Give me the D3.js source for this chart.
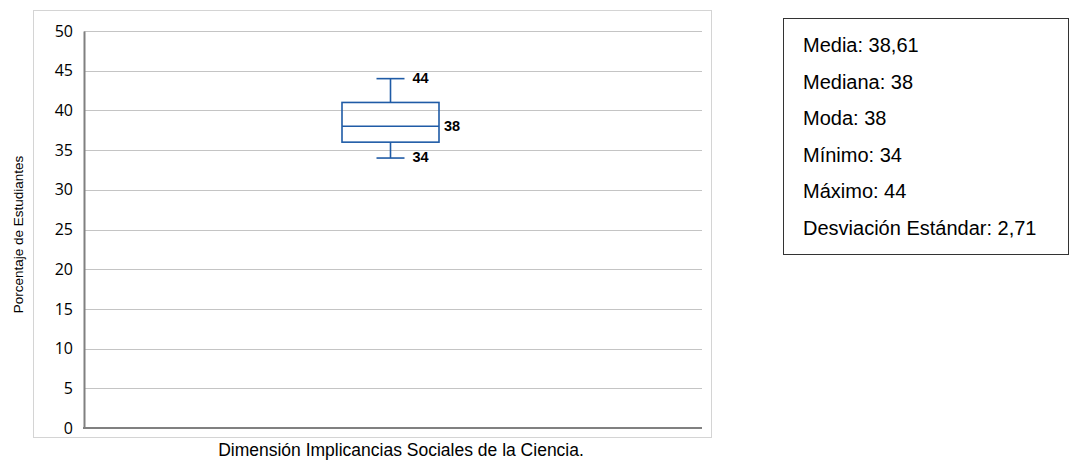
<!DOCTYPE html>
<html>
<head>
<meta charset="utf-8">
<script src="https://cdn.jsdelivr.net/npm/d3@7"></script>
<style>
  body { margin: 0; background: #fff; }
  svg { display: block; }
</style>
</head>
<body>
<svg id="chart" width="1078" height="460"></svg>
<script>
// Box-plot summary for the dimension
const categories = ["Dimensión Implicancias Sociales de la Ciencia."];
const minValues = [34];
const q1Values = [36];
const medianValues = [38];
const q3Values = [41];
const maxValues = [44];
const yTicks = [0, 5, 10, 15, 20, 25, 30, 35, 40, 45, 50];
const statLabels = ["Media", "Mediana", "Moda", "Mínimo", "Máximo", "Desviación Estándar"];
const statValues = ["38,61", "38", "38", "34", "44", "2,71"];

const svg = d3.select("#chart");
const plot = { left: 84, right: 702, top: 31, bottom: 428 };
const blue = "#1f5ba6";
const sans = "Arial, 'Liberation Sans', sans-serif";

// outer chart frame
svg.append("rect")
  .attr("x", 33.5).attr("y", 10.5)
  .attr("width", 678).attr("height", 427)
  .attr("fill", "none").attr("stroke", "#d4d4d4").attr("stroke-width", 1);

const y = d3.scaleLinear().domain([0, 50]).range([plot.bottom, plot.top]);
const x = d3.scaleBand().domain(categories).range([plot.left, plot.right]);

// gridlines
svg.append("g")
  .selectAll("line")
  .data(yTicks.filter(t => t > 0))
  .join("line")
  .attr("x1", plot.left).attr("x2", plot.right)
  .attr("y1", d => Math.round(y(d)) + 0.5).attr("y2", d => Math.round(y(d)) + 0.5)
  .attr("stroke", "#c4c4c4").attr("stroke-width", 1.2);

// y axis
const yAxis = svg.append("g")
  .attr("transform", `translate(${plot.left},0)`)
  .call(d3.axisLeft(y).tickValues(yTicks).tickSize(0).tickPadding(11));
yAxis.select(".domain").attr("stroke", "#808080").attr("stroke-width", 2);
yAxis.selectAll("text")
  .attr("font-family", "'Open Sans', 'Noto Sans', sans-serif")
  .attr("font-size", 16).attr("fill", "#000");

// x axis baseline
svg.append("line")
  .attr("x1", plot.left - 1).attr("x2", plot.right)
  .attr("y1", y(0)).attr("y2", y(0))
  .attr("stroke", "#808080").attr("stroke-width", 2);

// axis titles
svg.append("text")
  .attr("transform", `translate(23,${(plot.top + plot.bottom) / 2 + 5}) rotate(-90)`)
  .attr("text-anchor", "middle")
  .attr("font-family", sans)
  .attr("font-size", 13.5).attr("fill", "#000")
  .text("Porcentaje de Estudiantes");

svg.append("text")
  .attr("x", 401).attr("y", 456)
  .attr("text-anchor", "middle")
  .attr("font-family", sans)
  .attr("font-size", 17.5).attr("fill", "#000")
  .text(categories[0]);

// box plot
const data = categories.map((c, i) => ({
  c, min: minValues[i], q1: q1Values[i], med: medianValues[i], q3: q3Values[i], max: maxValues[i]
}));
const boxW = 97, capW = 28;
const g = svg.append("g");
data.forEach(d => {
  const cx = x(d.c) + x.bandwidth() / 2 - 2.5;
  const st = sel => sel.attr("stroke", blue).attr("stroke-width", 1.6).attr("fill", "none");
  // whiskers
  g.append("line").attr("x1", cx).attr("x2", cx).attr("y1", y(d.max)).attr("y2", y(d.q3)).call(st);
  g.append("line").attr("x1", cx).attr("x2", cx).attr("y1", y(d.q1)).attr("y2", y(d.min)).call(st);
  g.append("line").attr("x1", cx - capW / 2).attr("x2", cx + capW / 2).attr("y1", y(d.max)).attr("y2", y(d.max)).call(st);
  g.append("line").attr("x1", cx - capW / 2).attr("x2", cx + capW / 2).attr("y1", y(d.min)).attr("y2", y(d.min)).call(st);
  // box
  g.append("rect").attr("x", cx - boxW / 2).attr("y", y(d.q3))
    .attr("width", boxW).attr("height", y(d.q1) - y(d.q3)).call(st);
  g.append("line").attr("x1", cx - boxW / 2).attr("x2", cx + boxW / 2).attr("y1", y(d.med)).attr("y2", y(d.med)).call(st);

  // value labels
  const lbl = (tx, ty, v) => g.append("text")
    .attr("x", tx).attr("y", ty).attr("dy", "0.35em")
    .attr("font-family", sans)
    .attr("font-weight", "bold").attr("font-size", 14.5).attr("fill", "#000")
    .text(v);
  lbl(cx + capW / 2 + 8, y(d.max) - 1, d.max);
  lbl(cx + boxW / 2 + 5, y(d.med), d.med);
  lbl(cx + capW / 2 + 8, y(d.min) - 1, d.min);
});

// statistics box
const sb = { x: 783.5, y: 18.5, w: 285, h: 236 };
svg.append("rect")
  .attr("x", sb.x).attr("y", sb.y).attr("width", sb.w).attr("height", sb.h)
  .attr("fill", "#fff").attr("stroke", "#333").attr("stroke-width", 1);
svg.append("g")
  .selectAll("text")
  .data(statLabels)
  .join("text")
  .attr("x", 803)
  .attr("y", (d, i) => 52 + i * 36.5)
  .attr("font-family", sans)
  .attr("font-size", 20).attr("fill", "#000")
  .text((d, i) => `${d}: ${statValues[i]}`);
</script>
</body>
</html>
